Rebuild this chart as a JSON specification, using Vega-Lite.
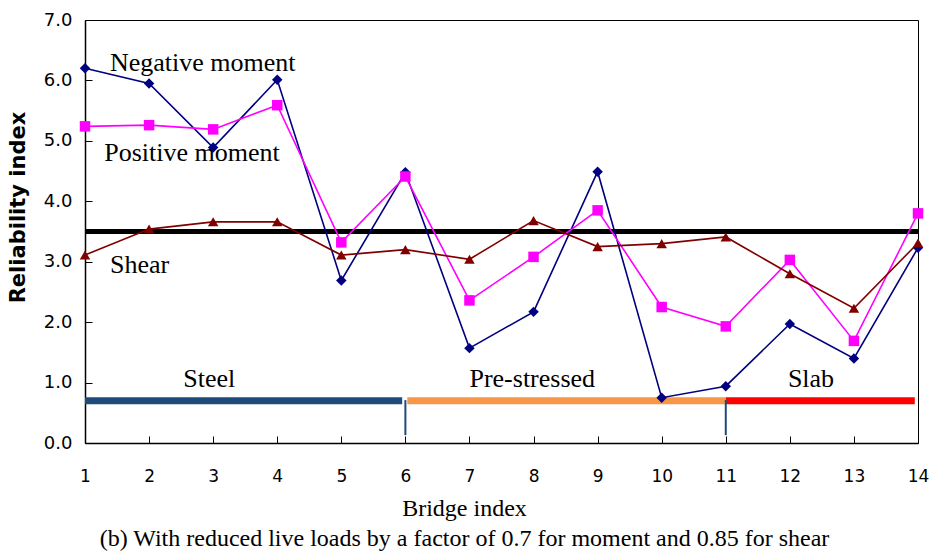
{
  "$schema": "https://vega.github.io/schema/vega-lite/v6.json",
  "autosize": "none",
  "width": 833,
  "height": 423,
  "padding": {"left": 85, "top": 20, "right": 12, "bottom": 109},
  "background": "white",
  "config": {"view": {"stroke": "black", "strokeWidth": 1}},
  "datasets": {
    "series": [
      {"bridge": 1, "series": "Negative moment", "value": 6.20},
      {"bridge": 2, "series": "Negative moment", "value": 5.95},
      {"bridge": 3, "series": "Negative moment", "value": 4.89},
      {"bridge": 4, "series": "Negative moment", "value": 6.01},
      {"bridge": 5, "series": "Negative moment", "value": 2.69},
      {"bridge": 6, "series": "Negative moment", "value": 4.48},
      {"bridge": 7, "series": "Negative moment", "value": 1.57},
      {"bridge": 8, "series": "Negative moment", "value": 2.17},
      {"bridge": 9, "series": "Negative moment", "value": 4.49},
      {"bridge": 10, "series": "Negative moment", "value": 0.75},
      {"bridge": 11, "series": "Negative moment", "value": 0.94},
      {"bridge": 12, "series": "Negative moment", "value": 1.97},
      {"bridge": 13, "series": "Negative moment", "value": 1.40},
      {"bridge": 14, "series": "Negative moment", "value": 3.23},
      {"bridge": 1, "series": "Positive moment", "value": 5.24},
      {"bridge": 2, "series": "Positive moment", "value": 5.26},
      {"bridge": 3, "series": "Positive moment", "value": 5.19},
      {"bridge": 4, "series": "Positive moment", "value": 5.59},
      {"bridge": 5, "series": "Positive moment", "value": 3.32},
      {"bridge": 6, "series": "Positive moment", "value": 4.41},
      {"bridge": 7, "series": "Positive moment", "value": 2.36},
      {"bridge": 8, "series": "Positive moment", "value": 3.08},
      {"bridge": 9, "series": "Positive moment", "value": 3.85},
      {"bridge": 10, "series": "Positive moment", "value": 2.25},
      {"bridge": 11, "series": "Positive moment", "value": 1.93},
      {"bridge": 12, "series": "Positive moment", "value": 3.03},
      {"bridge": 13, "series": "Positive moment", "value": 1.69},
      {"bridge": 14, "series": "Positive moment", "value": 3.80},
      {"bridge": 1, "series": "Shear", "value": 3.11},
      {"bridge": 2, "series": "Shear", "value": 3.54},
      {"bridge": 3, "series": "Shear", "value": 3.66},
      {"bridge": 4, "series": "Shear", "value": 3.66},
      {"bridge": 5, "series": "Shear", "value": 3.11},
      {"bridge": 6, "series": "Shear", "value": 3.20},
      {"bridge": 7, "series": "Shear", "value": 3.04},
      {"bridge": 8, "series": "Shear", "value": 3.68},
      {"bridge": 9, "series": "Shear", "value": 3.25},
      {"bridge": 10, "series": "Shear", "value": 3.30},
      {"bridge": 11, "series": "Shear", "value": 3.41},
      {"bridge": 12, "series": "Shear", "value": 2.80},
      {"bridge": 13, "series": "Shear", "value": 2.23},
      {"bridge": 14, "series": "Shear", "value": 3.31}
    ],
    "target": [{"from": 1, "to": 14, "value": 3.5}],
    "groups": [
      {"type": "Steel", "from": 1, "to": 5.95, "value": 0.70, "labelx": 2.94, "labely": 0.92},
      {"type": "Pre-stressed", "from": 6.03, "to": 11, "value": 0.70, "labelx": 7.98, "labely": 0.93},
      {"type": "Slab", "from": 11, "to": 13.95, "value": 0.70, "labelx": 12.33, "labely": 0.93}
    ],
    "dividers": [
      {"bridge": 6, "low": 0.13, "high": 0.71},
      {"bridge": 11, "low": 0.13, "high": 0.71}
    ],
    "labels": [
      {"text": "Negative moment", "x": 1.39, "y": 6.15},
      {"text": "Positive moment", "x": 1.30, "y": 4.67},
      {"text": "Shear", "x": 1.39, "y": 2.81}
    ]
  },
  "layer": [
    {
      "data": {"name": "groups"},
      "mark": {"type": "rule", "strokeWidth": 7},
      "encoding": {
        "x": {"field": "from", "type": "quantitative", "scale": {"domain": [1, 14], "nice": false, "zero": false},
          "axis": {
            "values": [1,2,3,4,5,6,7,8,9,10,11,12,13,14],
            "format": "d",
            "grid": false,
            "domainColor": "black",
            "domainWidth": 1.5,
            "tickColor": "black",
            "tickSize": -7,
            "labelFont": "DejaVu Sans",
            "labelFontSize": 17,
            "labelColor": "black",
            "labelPadding": 32,
            "labelFlush": false,
            "title": ["Bridge index", "(b) With reduced live loads by a factor of 0.7 for moment and 0.85 for shear"],
            "titleFont": "Liberation Serif",
            "titleFontSize": 24,
            "titleFontWeight": "normal",
            "titleColor": "black",
            "titleLineHeight": 30,
            "titleAlign": "center",
            "titleBaseline": "alphabetic",
            "titleX": 379,
            "titleY": 72
          }},
        "x2": {"field": "to"},
        "y": {"field": "value", "type": "quantitative", "scale": {"domain": [0, 7], "nice": false},
          "axis": {
            "values": [0,1,2,3,4,5,6,7],
            "format": ".1f",
            "grid": false,
            "domainColor": "black",
            "domainWidth": 1.5,
            "tickColor": "black",
            "tickSize": -7,
            "labelFont": "DejaVu Sans",
            "labelFontSize": 18,
            "labelColor": "black",
            "labelPadding": 20,
            "labelFlush": false,
            "title": "Reliability index",
            "titleFont": "DejaVu Sans",
            "titleFontSize": 21,
            "titleFontWeight": "bold",
            "titleColor": "black",
            "titleAngle": -90,
            "titleAlign": "center",
            "titleBaseline": "middle",
            "titleX": -67,
            "titleY": 187
          }},
        "color": {"field": "type", "type": "nominal",
          "scale": {"domain": ["Negative moment", "Positive moment", "Shear", "Steel", "Pre-stressed", "Slab"],
                    "range": ["#000080", "#FF00FF", "#800000", "#1F4A7C", "#F79646", "#FF0000"]},
          "legend": null}
      }
    },
    {
      "data": {"name": "dividers"},
      "mark": {"type": "rule", "strokeWidth": 2, "color": "#1F4A7C"},
      "encoding": {
        "x": {"field": "bridge", "type": "quantitative"},
        "y": {"field": "low", "type": "quantitative"},
        "y2": {"field": "high"}
      }
    },
    {
      "data": {"name": "groups"},
      "mark": {"type": "text", "font": "Liberation Serif", "fontSize": 26, "align": "center", "baseline": "alphabetic", "color": "black"},
      "encoding": {
        "x": {"field": "labelx", "type": "quantitative"},
        "y": {"field": "labely", "type": "quantitative"},
        "text": {"field": "type"}
      }
    },
    {
      "data": {"name": "target"},
      "mark": {"type": "rule", "strokeWidth": 5, "color": "black"},
      "encoding": {
        "x": {"field": "from", "type": "quantitative"},
        "x2": {"field": "to"},
        "y": {"field": "value", "type": "quantitative"}
      }
    },
    {
      "data": {"name": "series"},
      "mark": {"type": "line", "strokeWidth": 1.6},
      "encoding": {
        "x": {"field": "bridge", "type": "quantitative"},
        "y": {"field": "value", "type": "quantitative"},
        "color": {"field": "series", "type": "nominal"},
        "detail": {"field": "series"}
      }
    },
    {
      "data": {"name": "series"},
      "mark": {"type": "point", "filled": true, "opacity": 1},
      "encoding": {
        "x": {"field": "bridge", "type": "quantitative"},
        "y": {"field": "value", "type": "quantitative"},
        "color": {"field": "series", "type": "nominal"},
        "shape": {"field": "series", "type": "nominal",
          "scale": {"domain": ["Negative moment", "Positive moment", "Shear"], "range": ["diamond", "square", "triangle-up"]},
          "legend": null},
        "size": {"field": "series", "type": "nominal",
          "scale": {"domain": ["Negative moment", "Positive moment", "Shear"], "range": [110, 110, 130]},
          "legend": null}
      }
    },
    {
      "data": {"name": "labels"},
      "mark": {"type": "text", "font": "Liberation Serif", "fontSize": 26, "align": "left", "baseline": "alphabetic", "color": "black"},
      "encoding": {
        "x": {"field": "x", "type": "quantitative"},
        "y": {"field": "y", "type": "quantitative"},
        "text": {"field": "text"}
      }
    }
  ]
}
